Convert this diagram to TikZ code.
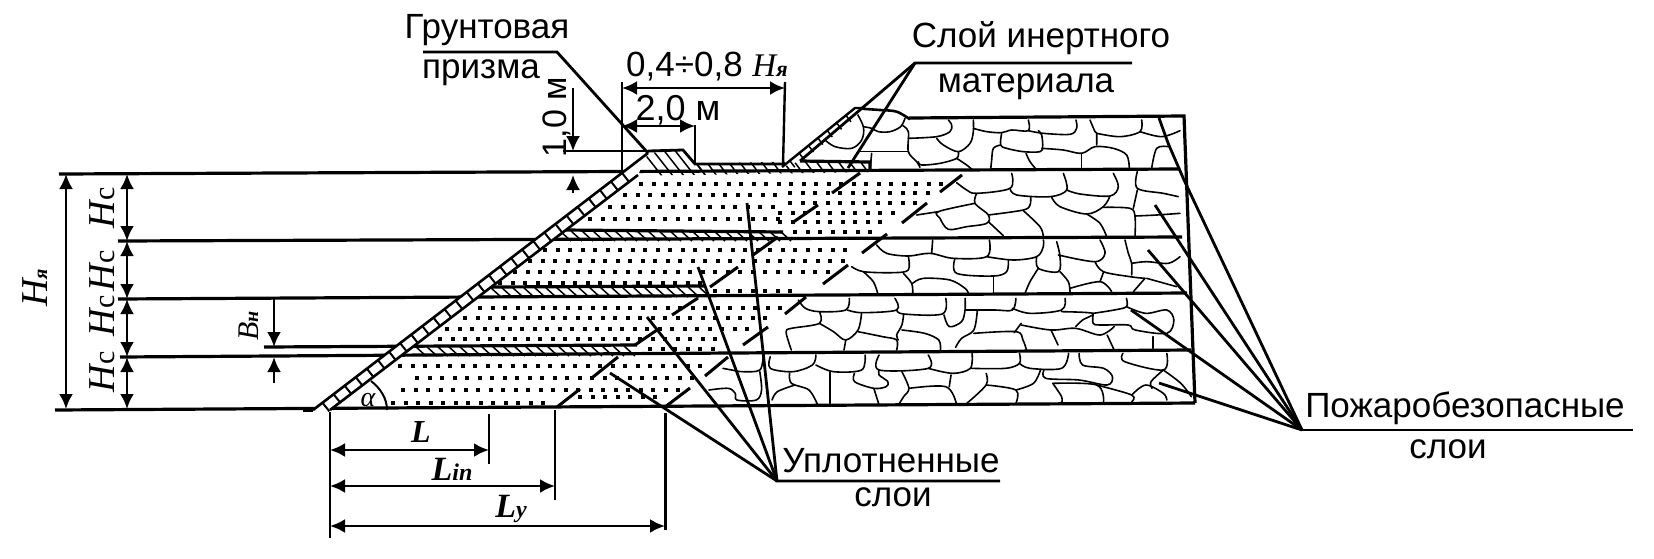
\documentclass[tikz,border=0pt]{standalone}
\usepackage{fontspec}
\setmainfont{Liberation Sans}
\newfontfamily\serfam{Liberation Serif}
\usetikzlibrary{arrows.meta}
\newcommand{\rk}[1]{\draw[rubble] plot[smooth,tension=.55] coordinates {#1};}
\newcommand{\fs}[1]{\fontsize{#1}{#1}\selectfont}
\newcommand{\symb}[2]{{\serfam\itshape\fs{#1}#2}}
\tikzset{
  rubble/.style={line width=1.6pt,line join=round,line cap=round},
  mainline/.style={line width=3.2pt},
  leader/.style={line width=2.8pt},
  dimline/.style={line width=2.6pt},
  extline/.style={line width=2.4pt},
  dimarrow/.style={line width=2.6pt,{Latex[length=15pt,width=14pt]}-{Latex[length=15pt,width=14pt]}},
  onetip/.style={line width=2.6pt,-{Latex[length=15pt,width=14pt]}},
  tickmark/.style={line width=3pt},
  hatch/.style={line width=1.5pt},
  lab/.style={inner sep=0pt,anchor=base},
  zoomA/.style={x=0.33333pt,y=-0.33333pt,shift={(780pt,-90pt)}},
  zoomB/.style={x=0.35088pt,y=-0.33333pt,shift={(644pt,-290pt)}},
}
\begin{document}
\begin{tikzpicture}[x=1pt,y=-1pt]
\useasboundingbox (0,0) rectangle (1654,558);
% ---- named points
\coordinate (hubU) at (777,481);
\coordinate (hubUe) at (1000,481);
\coordinate (hubP) at (1302,430);
\coordinate (hubPe) at (1633,430);
\coordinate (hubS) at (915,63);
\coordinate (hubSe) at (1132,63);
\coordinate (hubG) at (557,52);
\coordinate (hubGs) at (423,52);
\coordinate (prismTip) at (648,153);
\coordinate (a1) at (59,174);   \coordinate (a2) at (1180,169);
\coordinate (b1) at (118,241);  \coordinate (b2) at (1182,237);
\coordinate (c1) at (118,299);  \coordinate (c2) at (1187,293);
\coordinate (p1) at (264,347);  \coordinate (p2) at (637,345);
\coordinate (d1) at (120,357);  \coordinate (d2) at (1191,350);
\coordinate (e1) at (55,410);   \coordinate (e2) at (1195,403);
\coordinate (tr) at (1184,116);
% ---- rubble, layer 1
\begin{scope}[zoomA]
\rk{(225,60)(250,110)(245,150)(215,175)(165,170)(135,150)}
\rk{(375,85)(362,110)(330,125)(295,125)(275,115)(250,110)}
\rk{(240,185)(300,185)(385,185)}
\rk{(275,190)(270,240)}
\rk{(365,105)(385,125)(385,185)(410,215)(420,232)}
\rk{(385,145)(470,140)(510,125)(515,105)(505,90)}
\rk{(470,145)(490,165)(535,185)(570,160)(580,125)(580,90)}
\rk{(535,185)(530,205)(480,220)(425,225)(415,215)}
\rk{(530,205)(560,225)(578,240)}
\rk{(580,115)(620,125)(665,128)(695,120)(745,122)(745,90)}
\rk{(745,122)(790,130)(870,133)(890,115)(888,90)}
\rk{(665,128)(662,165)(680,175)(730,185)(780,185)(788,170)(785,135)(775,122)}
\rk{(662,165)(640,175)(635,210)(632,240)}
\rk{(738,190)(750,215)(770,240)}
\rk{(785,175)(850,180)(905,190)(945,170)(1000,175)(1040,195)(1048,235)}
\rk{(905,190)(905,240)}
\rk{(930,90)(945,125)(950,130)(950,165)}
\rk{(950,130)(1020,140)(1080,125)(1085,90)}
\rk{(1080,125)(1145,140)(1200,122)}
\rk{(1165,170)(1130,175)(1115,235)}
% layer 2
\rk{(530,278)(560,300)(590,310)(690,295)(695,250)}
\rk{(690,295)(710,315)(810,320)(860,300)(850,250)}
\rk{(860,300)(900,312)(990,318)(1015,290)(1000,250)}
\rk{(590,310)(585,340)(625,375)(620,400)(560,410)(505,418)(480,385)(475,365)(585,340)}
\rk{(475,365)(410,375)}
\rk{(625,375)(730,360)(750,345)(752,322)}
\rk{(730,362)(780,410)(790,440)}
\rk{(625,395)(670,437)}
\rk{(815,322)(840,350)(920,372)(970,350)(990,318)}
\rk{(920,372)(960,400)(980,440)}
\rk{(970,352)(1050,355)(1065,380)(1065,440)}
\rk{(1065,378)(1130,375)(1200,370)}
\rk{(1072,245)(1072,295)(1150,310)(1195,320)}
\rk{(1060,355)(1072,300)}
% layer 3
\rk{(290,465)(320,490)(385,498)(450,490)(520,505)(620,500)(628,450)}
\rk{(458,450)(455,490)}
\rk{(385,498)(385,540)(340,548)(250,545)(215,530)}
\rk{(250,545)(280,575)(293,610)}
\rk{(370,550)(395,580)(398,610)}
\rk{(398,580)(430,565)(510,570)(555,595)(565,610)}
\rk{(525,505)(530,550)(640,558)(680,545)(685,510)}
\rk{(620,500)(700,510)(770,500)(790,470)(790,450)}
\rk{(640,558)(640,610)}
\rk{(770,500)(775,535)(835,545)(840,500)(830,455)}
\rk{(775,535)(750,575)(735,610)}
\rk{(835,495)(945,515)(975,490)(960,450)}
\rk{(945,515)(970,545)(1050,560)(1095,565)}
\rk{(840,545)(865,575)(870,605)}
\rk{(870,595)(960,575)(995,605)}
\rk{(960,575)(970,548)}
\rk{(1035,450)(1045,490)(1055,520)(1055,555)}
\rk{(1055,520)(1100,515)(1165,520)(1200,500)}
\rk{(1095,565)(1060,605)}
\rk{(1100,565)(1190,590)}
\end{scope}
\begin{scope}[zoomB]
% layer 4
\rk{(440,30)(460,55)(500,65)(575,60)(585,25)}
\rk{(500,65)(500,100)(420,115)(405,125)(415,165)(420,180)}
\rk{(500,100)(540,125)(575,150)(610,120)(620,70)}
\rk{(580,60)(620,68)(720,60)(715,25)}
\rk{(720,60)(740,72)(850,72)(860,25)}
\rk{(740,72)(735,105)(720,135)(725,150)}
\rk{(735,120)(800,130)(840,150)(845,180)}
\rk{(610,125)(680,140)(720,150)(720,180)}
\rk{(575,150)(570,180)}
\rk{(915,25)(915,60)(905,95)(870,110)(855,75)}
\rk{(915,60)(1000,60)(1050,60)(1060,25)}
\rk{(950,60)(940,120)(905,145)(888,172)}
\rk{(940,130)(1060,125)(1080,150)(1090,180)}
\rk{(1055,128)(1075,100)}
\rk{(1050,55)(1100,70)(1190,60)(1200,25)}
\rk{(1190,65)(1280,70)(1250,90)(1230,110)}
\rk{(1075,105)(1160,120)(1230,115)(1300,135)(1340,110)}
\rk{(1160,120)(1180,165)}
\rk{(1280,70)(1340,60)(1375,50)(1375,25)}
\rk{(1280,75)(1280,100)(1300,105)(1380,105)(1400,120)(1490,130)(1510,90)(1490,60)(1430,70)(1375,50)}
\rk{(1320,135)(1340,180)}
\rk{(1450,140)(1450,175)}
% layer 5
\rk{(360,200)(360,235)(425,245)(480,225)(490,195)}
\rk{(490,225)(540,245)(620,240)(630,195)}
\rk{(670,195)(670,240)(810,235)(810,195)}
\rk{(810,235)(880,250)(930,235)(935,190)}
\rk{(930,235)(1030,235)(1070,220)(1070,190)}
\rk{(1070,220)(1100,235)(1190,235)(1210,190)}
\rk{(1140,240)(1145,265)(1240,270)(1320,285)(1335,260)(1310,235)(1250,225)(1240,190)}
\rk{(1365,190)(1370,215)(1480,240)(1490,190)}
\rk{(1480,240)(1445,275)(1448,295)}
\rk{(1480,240)(1530,280)(1560,320)}
\rk{(415,250)(420,280)(470,300)(495,345)}
\rk{(365,330)(380,305)(430,285)}
\rk{(530,245)(530,340)}
\rk{(600,250)(600,275)(655,295)(690,290)(695,275)(670,255)(670,240)}
\rk{(655,295)(670,345)}
\rk{(735,245)(755,295)(740,320)(725,345)}
\rk{(755,295)(860,290)(890,340)}
\rk{(875,255)(870,290)}
\rk{(975,250)(975,285)(920,340)}
\rk{(975,285)(1060,300)(1060,340)}
\rk{(1060,300)(1110,280)(1130,240)}
\rk{(1165,280)(1190,320)(1190,340)}
\rk{(1165,280)(1290,285)(1310,335)}
\rk{(1290,285)(1390,315)(1390,335)}
\rk{(1390,315)(1430,285)(1480,310)(1490,330)}
\rk{(225,235)(250,240)(280,245)(330,240)(340,195)}
\rk{(185,300)(240,295)(260,310)(265,330)(320,330)(335,300)(330,245)}
\end{scope}
% ---- dots of the compacted layers
\foreach \yy/\xa/\xb in {184/641/943,195/625/780,207/610/780,219/590/780,193/790/930,203/790/917,213/780/895,222/780/890,232/795/870,
  250/545/853,261/530/846,272/515/830,283/500/700,291/715/800,
  308/480/783,318/465/768,329/447/750,339/440/715,349/650/722,
  366/400/708,378/417/697,390/403/686,403/393/547,397/580/663}{
  \pgfmathsetmacro{\xn}{\xa+12.5}
  \foreach \xx in {\xa,\xn,...,\xb}{\fill (\xx-2,\yy-2) rectangle (\xx+2,\yy+2);}
}
% ---- hatch of the inert layers
\begin{scope}
\clip (648,153) -- (683,150) -- (695,164) -- (800,161) -- (870,161) -- (870,172) -- (625,176) -- cycle;
\foreach \xx in {640,651,...,694}{\draw[hatch] (\xx,148) -- (\xx+22,176);}
\foreach \xx in {694,705,...,870}{\draw[hatch] (\xx,160) -- (\xx+12,176);}
\end{scope}
\foreach \xx in {560,571,...,780}{\draw[hatch] (\xx,231) -- (\xx+11,241);}
\foreach \xx in {490,501,...,700}{\draw[hatch] (\xx,287) -- (\xx+11,297);}
\foreach \xx in {415,426,...,625}{\draw[hatch] (\xx,346) -- (\xx+11,356);}
% ---- short tick marks along the compaction boundaries
\foreach \pa/\pb/\qa/\qb in {557/407/580/389,593/377/618/357,635/345/657/330,665/407/690/388,705/376/728/357,743/345/768/327,672/315/698/298,710/287/738/267,753/255/778/237,785/314/806/297,823/284/848/265,862/253/887/234,792/223/818/205,832/193/860/173,902/223/927/203,940/192/962/175}{
  \draw[tickmark] (\pa,\pb) -- (\qa,\qb);
}
% ---- layer lines
\draw[mainline] (a1) -- (a2);
\draw[mainline] (b1) -- (b2);
\draw[mainline] (c1) -- (c2);
\draw[mainline] (d1) -- (d2);
\draw[mainline] (e1) -- (e2);
\draw[mainline] (p1) -- (p2);
\draw[mainline] (565,230) -- (783,232);
\draw[mainline] (491,287) -- (705,286);
\draw[mainline] (800,161) -- (870,162) -- (870,170);
\draw[line width=2.8pt] (648,151) -- (683,150) -- (695,164) -- (783,164);
% ---- rubble outline
\begin{scope}[zoomA]
\draw[line width=2.6pt] plot[smooth,tension=.55] coordinates {(225,55)(300,60)(350,65)(390,88)};
\end{scope}
\draw[mainline,line join=miter] (909,118) -- (tr) -- (e2);
% ---- left slope band
\fill[white] (313,410) -- (330,410) -- (638,175) -- (648,153) -- cycle;
\draw[mainline] (303,410) -- (313,410);
\draw[line width=2.6pt] (313,410) -- (prismTip);
\draw[line width=2.6pt] (330,410) -- (638,175);
\foreach \tt in {12,26,...,395}{
  \draw[line width=2pt] ({313+0.793*\tt},{410-0.607*\tt}) -- ++(6.8,8.6);
}
% ---- right slope band
\fill[white] (782,167) -- (855,108) -- (863,110) -- (800,161) -- cycle;
\draw[line width=2.4pt] (782,167) -- (855,108) -- (865,108);
\foreach \tt in {10,22,...,88}{
  \draw[hatch] ({782+0.78*\tt},{167-0.63*\tt}) -- ++(5,6.5);
}
% ---- dimension lines
\draw[dimarrow] (66,174) -- (66,409);
\draw[dimarrow] (127,174) -- (127,241);
\draw[dimarrow] (127,241) -- (127,299);
\draw[dimarrow] (127,299) -- (127,357);
\draw[dimarrow] (127,357) -- (127,409);
\draw[onetip] (274,299) -- (274,347);
\draw[onetip] (274,383) -- (274,357);
\draw[extline] (622,82) -- (622,175);
\draw[extline] (785,82) -- (783,165);
\draw[extline] (695,125) -- (695,165);
\draw[dimarrow] (622,88) -- (785,88);
\draw[dimarrow] (622,126) -- (695,126);
\draw[dimline] (563,151) -- (648,151);
\draw[onetip,line width=2pt] (573,88) -- (573,151);
\draw[onetip,line width=2pt] (573,193) -- (573,175);
\draw[extline] (330,412) -- (330,538);
\draw[extline] (489,414) -- (489,464);
\draw[extline] (555,410) -- (555,500);
\draw[line width=3pt] (665,413) -- (665,530);
\draw[dimarrow] (330,450) -- (489,450);
\draw[dimarrow] (330,486) -- (555,486);
\draw[dimarrow] (330,526) -- (665,526);
\draw[line width=2pt] (387,410) .. controls (387,398) and (380,388) .. (371,381);
% ---- leaders
\draw[leader] (hubGs) -- (hubG) -- (prismTip);
\draw[leader] (hubSe) -- (hubS) -- (800,161);
\draw[leader] (hubS) -- (848,168);
\draw[leader] (hubUe) -- (hubU) -- (747,203);
\draw[leader] (hubU) -- (698,267);
\draw[leader] (hubU) -- (647,317);
\draw[leader] (hubU) -- (610,373);
\draw[leader] (hubPe) -- (hubP);
\draw[leader] (hubP) -- (1184,180) -- (1168,143) -- (1159,118);
\draw[leader] (hubP) -- (1155,205);
\draw[leader] (hubP) -- (1148,250);
\draw[leader] (hubP) -- (1131,310);
\draw[leader] (hubP) -- (1159,383);
% ---- labels
\node[lab] (tGr) at (487,38) {\fs{35}Грунтовая};
\node[lab] (tPr) at (481,78) {\fs{35}призма};
\node[lab,anchor=base west] (tRange) at (626,76) {\fs{35}0,4÷0,8 \symb{33}{H}\symb{22}{\bfseries я}};
\node[lab] (t20) at (678,120) {\fs{36}2,0 м};
\node[lab,rotate=90] (t10) at (566,117) {\fs{34}1,0 м};
\node[lab] (tSl) at (1041,47) {\fs{35}Слой инертного};
\node[lab] (tMa) at (1026,92) {\fs{35}материала};
\node[lab] (tUp) at (891,472) {\fs{35}Уплотненные};
\node[lab] (tSl2) at (893,506) {\fs{35}слои};
\node[lab] (tPo) at (1465,417) {\fs{35}Пожаробезопасные};
\node[lab] (tSl3) at (1448,458) {\fs{35}слои};
\node[lab,rotate=90] (tHa) at (47,288) {\symb{38}{H}\symb{20}{\bfseries я}};
\node[lab,rotate=90] (tH1) at (114,208) {\symb{38}{H}{\serfam\fs{30}с}};
\node[lab,rotate=90] (tH2) at (114,271) {\symb{38}{H}{\serfam\fs{30}с}};
\node[lab,rotate=90] (tH3) at (114,316) {\symb{38}{H}{\serfam\fs{30}с}};
\node[lab,rotate=90] (tH4) at (114,372) {\symb{38}{H}{\serfam\fs{30}с}};
\node[lab,rotate=90] (tBn) at (258,326) {\symb{30}{B}\symb{20}{\bfseries н}};
\node[lab] (tL) at (421,442) {\symb{32}{\bfseries L}};
\node[lab] (tLin) at (452,480) {\symb{34}{\bfseries L}\symb{24}{\bfseries in}};
\node[lab] (tLy) at (511,517) {\symb{34}{\bfseries L}\symb{24}{\bfseries у}};
\node[lab] (tAl) at (368,406) {\symb{28}{α}};
\end{tikzpicture}
\end{document}
